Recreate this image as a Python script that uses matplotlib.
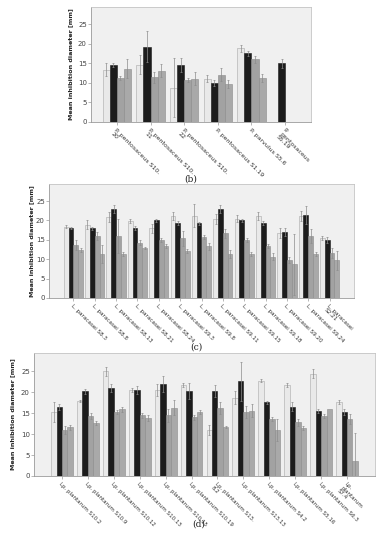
import numpy as np
import matplotlib
matplotlib.use("Agg")
import matplotlib.pyplot as plt

plt.rcParams["font.family"] = ["DejaVu Sans"]

W, H = 389, 550
YMAX = 29.4
COLORS = ["#e9e9e9", "#1c1c1c", "#a2a2a2", "#a9a9a9"]
EDGES = ["#a8a8a8", "#1c1c1c", "#8a8a8a", "#8a8a8a"]

# ---- (b) Pediococcus ----
b_labels = ["P. pentosaceus S10.\n20", "P. pentosaceus S10.\n11",
            "P. pentosaceus S10.\n22", "P. pentosaceus S1.19",
            "P. parvulus S5.6", "P.\npentosaceus\nS5.19"]
b_s1 = [13.4, 14.7, 8.8, 11.1, 18.8, 0.0]
b_s2 = [14.6, 19.3, 14.6, 10.0, 17.6, 15.0]
b_s3 = [11.3, 11.4, 10.7, 12.1, 16.0, 0.0]
b_s4 = [13.6, 13.1, 11.1, 9.7, 11.2, 0.0]
b_e1 = [1.6, 2.5, 7.6, 0.8, 0.9, 0.0]
b_e2 = [0.5, 4.0, 1.8, 0.8, 0.6, 1.1]
b_e3 = [0.5, 1.5, 0.5, 1.7, 0.8, 0.0]
b_e4 = [2.4, 1.7, 1.7, 1.0, 1.0, 0.0]

# ---- (c) L. paracasei ----
c_labels = ["L. paracasei S8.3", "L. paracasei S8.8", "L. paracasei S8.13",
            "L. paracasei S8.21", "L. paracasei S8.24", "L. paracasei S9.3",
            "L. paracasei S9.8", "L. paracasei S9.11", "L. paracasei S9.15",
            "L. paracasei S9.18", "L. paracasei S9.20", "L. paracasei S9.24",
            "L. paracasei\nS2.21"]
c_s1 = [18.4, 18.9, 21.0, 19.9, 18.0, 21.2, 21.2, 20.4, 20.4, 21.2, 16.7, 21.2, 15.4]
c_s2 = [18.0, 18.0, 23.0, 18.0, 20.0, 19.3, 19.3, 23.0, 20.0, 19.3, 17.0, 21.3, 15.0]
c_s3 = [13.7, 16.0, 16.0, 14.3, 15.0, 15.4, 15.7, 16.7, 15.0, 13.3, 9.7, 16.0, 11.7]
c_s4 = [12.4, 11.4, 11.4, 12.9, 13.5, 12.2, 13.3, 11.4, 11.4, 10.7, 8.7, 11.4, 9.7]
c_e1 = [0.3, 1.2, 1.3, 0.6, 1.2, 1.0, 3.0, 1.3, 0.9, 1.0, 1.3, 1.3, 0.5]
c_e2 = [0.3, 0.4, 1.0, 0.5, 0.3, 0.5, 0.4, 1.0, 0.4, 0.5, 1.0, 2.3, 0.7]
c_e3 = [1.2, 1.0, 4.5, 0.6, 0.5, 2.0, 0.5, 1.2, 0.5, 0.5, 0.8, 1.7, 1.3]
c_e4 = [0.5, 2.3, 0.5, 0.3, 0.5, 0.5, 1.0, 1.0, 0.5, 1.0, 7.8, 0.5, 2.5]

# ---- (d) Lp. plantarum ----
d_labels = ["Lp. plantarum S10.2", "Lp. plantarum S10.9", "Lp. plantarum S10.12",
            "Lp. plantarum S10.13", "Lp. plantarum S10.15", "Lp. plantarum S10.19",
            "Lp. plantarum S13.\n8.2", "Lp. plantarum S13.13", "Lp. plantarum S4.2",
            "Lp. plantarum S5.16", "Lp. plantarum S6.3", "Lp.\nplantarum\nS7.4"]
d_s1 = [15.3, 18.0, 25.0, 20.6, 20.6, 21.7, 11.0, 18.7, 22.8, 21.8, 24.5, 17.7]
d_s2 = [16.5, 20.3, 21.0, 20.5, 21.9, 20.4, 20.3, 22.6, 17.6, 16.6, 15.6, 15.3]
d_s3 = [11.0, 14.3, 15.3, 14.5, 14.5, 14.0, 16.3, 15.3, 13.7, 12.8, 14.4, 13.7]
d_s4 = [11.7, 12.7, 15.9, 13.9, 16.3, 15.3, 11.7, 15.6, 11.0, 11.4, 16.0, 3.7]
d_e1 = [2.5, 0.2, 1.0, 0.5, 1.5, 0.5, 1.2, 1.5, 0.4, 0.5, 1.0, 0.4]
d_e2 = [0.7, 0.6, 1.0, 1.0, 1.9, 1.9, 1.5, 4.7, 0.3, 1.0, 0.5, 0.8]
d_e3 = [1.0, 0.7, 0.5, 0.6, 1.5, 0.5, 1.5, 1.5, 0.5, 0.8, 0.5, 1.2]
d_e4 = [0.6, 0.4, 0.7, 0.7, 1.8, 0.4, 0.3, 1.5, 2.6, 0.5, 0.0, 6.5]


def add_axes(fig, x0, y0, x1, y1):
    return fig.add_axes([x0 / W, 1 - y1 / H, (x1 - x0) / W, (y1 - y0) / H])


def panel(ax, labels, series, errs, bw, margin, ylab_x, xfs):
    n = len(labels)
    x = np.arange(n)
    for k, (vals, err) in enumerate(zip(series, errs)):
        pos = x + (k - 1.5) * bw
        ax.bar(pos, vals, width=bw, color=COLORS[k], edgecolor=EDGES[k],
               linewidth=0.4, zorder=2)
        e = np.array(err)
        m = e > 0
        ax.errorbar(pos[m], np.array(vals)[m], yerr=e[m], fmt="none",
                    ecolor="#8c8c8c", elinewidth=0.5, capsize=0.8,
                    capthick=0.5, zorder=3)
    ax.set_xlim(-margin, n - 1 + margin)
    ax.set_ylim(0, YMAX)
    ax.set_facecolor("#f0f0f0")
    for s in ax.spines.values():
        s.set_color("#c4c4c4")
        s.set_linewidth(0.6)
    ax.spines["bottom"].set_color("#9a9a9a")
    ax.spines["left"].set_color("#9a9a9a")
    ax.set_yticks([0, 5, 10, 15, 20, 25])
    ax.tick_params(axis="y", labelsize=5, colors="#9a9a9a", labelcolor="#444444",
                   length=2, width=0.5, pad=1)
    ax.set_xticks(x)
    ax.set_xticklabels(labels, rotation=-45, ha="left", va="top",
                       rotation_mode="anchor", fontsize=xfs, color="#333333",
                       linespacing=1.0)
    ax.tick_params(axis="x", colors="#9a9a9a", labelcolor="#333333",
                   length=2.5, width=0.5, pad=1.5)
    ax.set_ylabel("Mean inhibition diameter [mm]", fontsize=4.6,
                  fontweight="bold", color="#222222", labelpad=2)
    ax.yaxis.set_label_coords(ylab_x, 0.5)


fig = plt.figure(figsize=(W / 100, H / 100), dpi=100)

axb = add_axes(fig, 91, 7, 311, 122)
panel(axb, b_labels, [b_s1, b_s2, b_s3, b_s4], [b_e1, b_e2, b_e3, b_e4],
      0.21, 0.77, -0.08, 4.5)

axc = add_axes(fig, 49, 184, 354, 298)
panel(axc, c_labels, [c_s1, c_s2, c_s3, c_s4], [c_e1, c_e2, c_e3, c_e4],
      0.225, 1.14, -0.05, 4.1)

axd = add_axes(fig, 34, 353, 375, 476)
panel(axd, d_labels, [d_s1, d_s2, d_s3, d_s4], [d_e1, d_e2, d_e3, d_e4],
      0.21, 1.08, -0.055, 4.0)

for lab, (px, py) in zip(["b", "c", "d"], [(191, 179), (196, 347), (199, 524)]):
    fig.text(px / W, 1 - py / H, f"({lab})", ha="center", va="center",
             fontsize=6.5, family=["DejaVu Serif"], color="#222222")

fig.savefig("out.png", dpi=100)
